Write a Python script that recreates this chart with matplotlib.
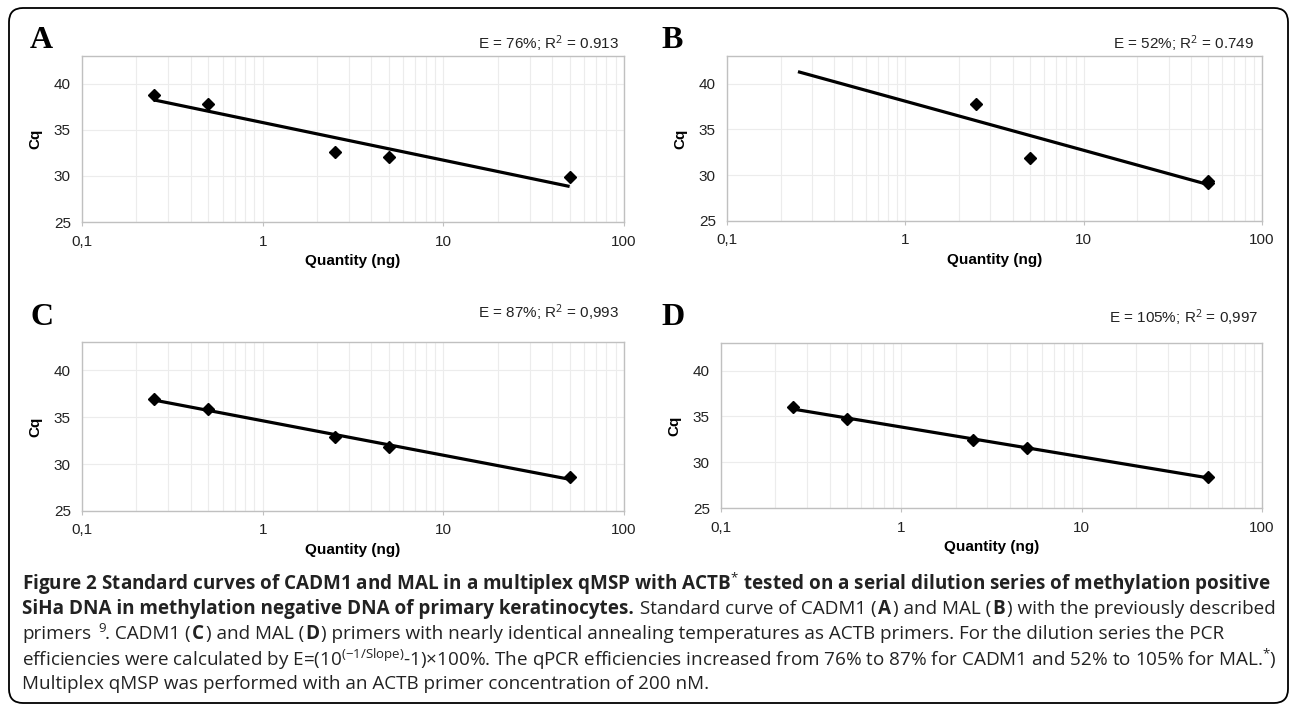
import numpy as np
import matplotlib
matplotlib.use('Agg')
from matplotlib import pyplot as plt, patches

plt.rcParams['font.family'] = ['Liberation Sans', 'DejaVu Sans']
plt.rcParams['mathtext.fontset'] = 'custom'
plt.rcParams['mathtext.rm'] = 'Open Sans'
plt.rcParams['mathtext.bf'] = 'Open Sans:bold'
plt.rcParams['mathtext.it'] = 'Open Sans:italic'

# data
qty = [0.25, 0.5, 2.5, 5, 50]
cq_a = [38.8, 37.8, 32.6, 32.1, 29.9]
qty_b = [2.5, 5, 50, 50]
cq_b = [37.8, 31.9, 29.4, 29.1]
cq_c = [36.9, 35.9, 32.9, 31.8, 28.6]
cq_d = [36.0, 34.7, 32.4, 31.5, 28.4]

panel_names = ['A', 'B', 'C', 'D']
fit_labels = ['E = 76%; R$^{2}$ = 0.913', 'E = 52%; R$^{2}$ = 0.749',
              'E = 87%; R$^{2}$ = 0,993', 'E = 105%; R$^{2}$ = 0,997']
xtick_vals = [0.1, 1, 10, 100]
xtick_labels = ['0,1', '1', '10', '100']
ytick_vals = [25, 30, 35, 40]

W, H = 1290, 706
fig = plt.figure(figsize=(W / 100, H / 100), dpi=100)

def px_axes(left, top, right, bottom):
    return fig.add_axes([left / W, 1 - bottom / H, (right - left) / W, (bottom - top) / H])

# outer rounded frame
frame = patches.FancyBboxPatch((9, 3), 1279, 695, boxstyle='round,pad=0,rounding_size=14',
                               transform=None, facecolor='none', edgecolor='black', lw=1.3)
fig.patches.append(frame)

# (axes box in pixels, panel letter pos, fit label pos, data)
panels = [
    ((82, 56, 624, 222), (30, 48), (619, 44), qty, cq_a),
    ((727, 56, 1262, 221), (661, 48), (1254, 44), qty_b, cq_b),
    ((82, 342, 624, 511), (31, 325), (619, 313), qty, cq_c),
    ((721, 343, 1262, 508), (661, 325), (1258, 318), qty, cq_d),
]

gray = '#c0c0c0'
grid = '#ececec'
for i, (box, lab_pos, fit_pos, xs, ys) in enumerate(panels):
    ax = px_axes(*box)
    ax.set_xscale('log')
    ax.set_xlim(0.1, 100)
    ax.set_ylim(25, 43)
    ax.set_xticks(xtick_vals)
    ax.set_xticklabels(xtick_labels)
    ax.set_yticks(ytick_vals)
    ax.xaxis.set_minor_formatter(matplotlib.ticker.NullFormatter())
    ax.grid(True, which='both', axis='x', color=grid, lw=0.8)
    ax.grid(True, which='major', axis='y', color=grid, lw=0.8)
    ax.set_axisbelow(True)
    for s in ax.spines.values():
        s.set_color(gray)
        s.set_linewidth(1.0)
    ax.tick_params(axis='both', which='both', length=0, labelsize=11, colors='#222222', pad=8)
    ax.tick_params(axis='x', which='major', length=3, color=gray, direction='out', pad=6)

    # log-linear trendline over the dilution range
    k, b = np.polyfit(np.log10(xs), ys, 1)
    xl = np.array([min(qty), max(qty)])
    ax.plot(xl, k * np.log10(xl) + b, color='black', lw=2.3, solid_capstyle='butt', zorder=3)
    ax.plot(xs, ys, ls='none', marker='D', ms=6, color='black', zorder=4)

    ax.set_xlabel('Quantity (ng)', fontsize=11, fontweight='bold', labelpad=4)
    ax.set_ylabel('Cq', fontsize=11, fontweight='bold', labelpad=8)

    fig.text(lab_pos[0] / W, 1 - lab_pos[1] / H, panel_names[i], family='Liberation Serif',
             fontweight='bold', fontsize=23, ha='left', va='baseline')
    fig.text(fit_pos[0] / W, 1 - fit_pos[1] / H, fit_labels[i], fontsize=11,
             ha='right', va='center', color='#222222')

# caption
renderer = fig.canvas.get_renderer()
cap_size = 13.0

def seg_width(s, weight, size):
    t1 = fig.text(0, 0, '|' + s + '|', fontsize=size, fontweight=weight, family='Open Sans')
    t2 = fig.text(0, 0, '||', fontsize=size, fontweight=weight, family='Open Sans')
    w = t1.get_window_extent(renderer).width - t2.get_window_extent(renderer).width
    t1.remove()
    t2.remove()
    return w

def rich_line(x, y, parts, size):
    for s, weight in parts:
        fig.text(x / W, 1 - y / H, s, fontsize=size, fontweight=weight, family='Open Sans',
                 ha='left', va='center', color='#222222')
        x += seg_width(s, weight, size) + 1.5

line1 = 'Figure 2 Standard curves of CADM1 and MAL in a multiplex qMSP with ACTB$^{*}$ tested on a serial dilution series of methylation positive'
# fit first line into the caption width
cap_size = cap_size * 1243 / seg_width(line1, 'bold', cap_size)

cap_x = 22
cap_y = [584, 609, 634, 659, 684]
rich_line(cap_x, cap_y[0], [(line1, 'bold')], cap_size)
rich_line(cap_x, cap_y[1], [('SiHa DNA in methylation negative DNA of primary keratinocytes.', 'bold'),
                            (' Standard curve of CADM1 (', 'normal'), ('A', 'bold'),
                            (') and MAL (', 'normal'), ('B', 'bold'),
                            (') with the previously described', 'normal')], cap_size)
rich_line(cap_x, cap_y[2], [('primers', 'normal'), (' $^{9}$', 'normal'), ('. CADM1 (', 'normal'),
                            ('C', 'bold'), (') and MAL (', 'normal'), ('D', 'bold'),
                            (') primers with nearly identical annealing temperatures as ACTB primers. For the dilution series the PCR', 'normal')], cap_size)
rich_line(cap_x, cap_y[3], [('efficiencies were calculated by E=(10$^{(\u22121/\\mathrm{Slope})}$-1)\u00d7100%. The qPCR efficiencies increased from 76% to 87% for CADM1 and 52% to 105% for MAL.$^{*}$)', 'normal')], cap_size)
rich_line(cap_x, cap_y[4], [('Multiplex qMSP was performed with an ACTB primer concentration of 200 nM.', 'normal')], cap_size)

fig.savefig('out.png', dpi=100)
